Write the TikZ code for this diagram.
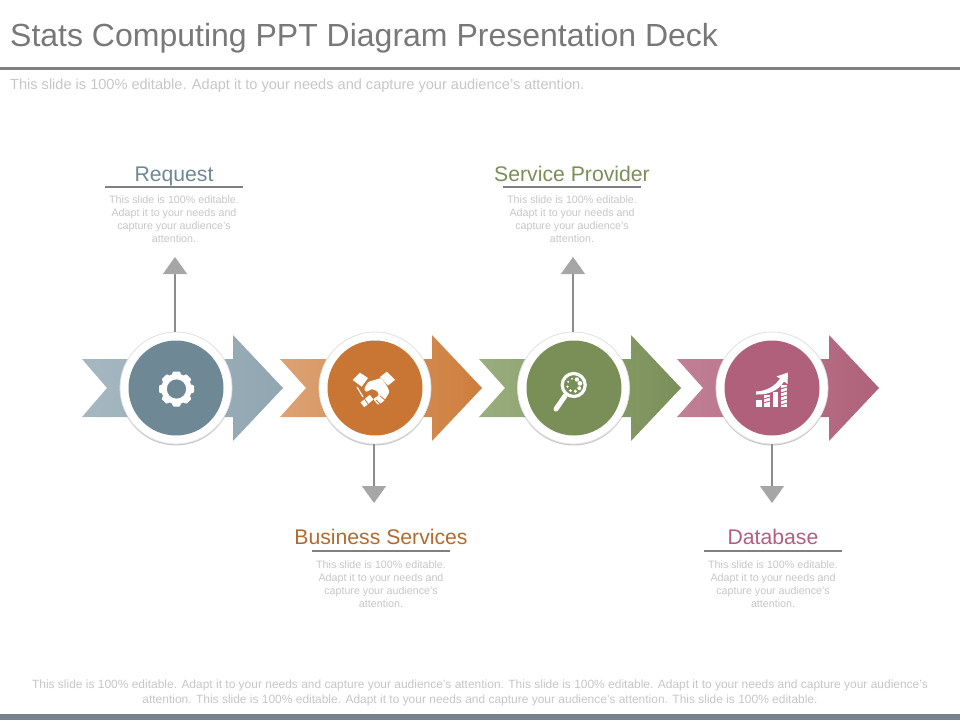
\documentclass[tikz,border=0pt]{standalone}
\usepackage{fontspec}
\setmainfont{Liberation Sans}
\usetikzlibrary{arrows.meta,shadows}
\definecolor{slate}{HTML}{6F8896}
\definecolor{slatehead}{HTML}{90A6B1}
\definecolor{slatetail}{HTML}{A5B8C2}
\definecolor{copper}{HTML}{C97534}
\definecolor{copperhead}{HTML}{CD7E3D}
\definecolor{coppertail}{HTML}{DDA274}
\definecolor{moss}{HTML}{7A8F58}
\definecolor{mosshead}{HTML}{7A8F58}
\definecolor{mosstail}{HTML}{9AAE7E}
\definecolor{rose}{HTML}{B0607A}
\definecolor{rosehead}{HTML}{AF627A}
\definecolor{rosetail}{HTML}{C08096}
\definecolor{rulegray}{HTML}{808080}
\definecolor{palegray}{HTML}{C6C6C6}
\definecolor{barslate}{HTML}{76828C}
\tikzset{
  ring/.style={circle,fill=white,draw=black!12,line width=0.8pt,minimum size=112pt,inner sep=0pt,
    drop shadow={shadow xshift=0pt,shadow yshift=-1.5pt,opacity=0.22,fill=black}},
  disc/.style={circle,minimum size=95pt,inner sep=0pt},
  heading/.style={font=\fontsize{21.2}{24}\selectfont,anchor=base},
  blurb/.style={font=\fontsize{10.7}{13}\selectfont,text=palegray,align=center,anchor=north},
  leader/.style={draw=black!45,line width=1.2pt,-{Triangle[width=24pt,length=17pt,color=black!35]}},
  underline/.style={draw=rulegray,line width=1.6pt}
}
\begin{document}
\begin{tikzpicture}[x=1pt,y=-1pt]
\useasboundingbox (0,0) rectangle (960,720);
% title and footer
\node[anchor=west,inner sep=0pt,text=black!53,font=\fontsize{32}{36}\selectfont] (title) at (10,38) {Stats Computing PPT Diagram Presentation Deck};
\fill[rulegray] (0,66.5) rectangle (960,69.5);
\node[anchor=west,inner sep=0pt,text=palegray,font=\fontsize{14.56}{16}\selectfont] (subtitle) at (10,86) {This slide is 100\% editable. Adapt it to your needs and capture your audience's attention.};
\node[inner sep=0pt,text=palegray,align=center,font=\fontsize{11.97}{15}\selectfont] (footer) at (480,693) {This slide is 100\% editable. Adapt it to your needs and capture your audience's attention. This slide is 100\% editable. Adapt it to your needs and capture your audience's\\attention. This slide is 100\% editable. Adapt it to your needs and capture your audience's attention. This slide is 100\% editable.};
\fill[barslate] (0,714) rectangle (960,720);
% chevrons
\shade[left color=slatetail,right color=slatehead] (82,359) -- (233,359) -- (233,335) -- (283,388) -- (233,441) -- (233,417) -- (82,417) -- (107,388) -- cycle;
\shade[left color=coppertail,right color=copperhead] (280,359) -- (432,359) -- (432,335) -- (482,388) -- (432,441) -- (432,417) -- (280,417) -- (306,388) -- cycle;
\shade[left color=mosstail,right color=mosshead] (479,359) -- (631,359) -- (631,335) -- (681,388) -- (631,441) -- (631,417) -- (479,417) -- (505,388) -- cycle;
\shade[left color=rosetail,right color=rosehead] (677,359) -- (829,359) -- (829,335) -- (879,388) -- (829,441) -- (829,417) -- (677,417) -- (703,388) -- cycle;
% rings and discs
\node[ring] (ringA) at (176,388) {};
\node[ring] (ringB) at (375,388) {};
\node[ring] (ringC) at (573.5,388) {};
\node[ring] (ringD) at (772,388) {};
\node[disc,fill=slate] (discA) at (176,388) {};
\node[disc,fill=copper] (discB) at (375,388) {};
\node[disc,fill=moss] (discC) at (574,388) {};
\node[disc,fill=rose] (discD) at (772,388) {};
% free ends of the leaders
\coordinate (tipA) at (175,257);
\coordinate (tipB) at (374,503);
\coordinate (tipC) at (573,257);
\coordinate (tipD) at (772,503);
\draw[leader] (ringA.north -| tipA) -- (tipA);
\draw[leader] (ringB.south -| tipB) -- (tipB);
\draw[leader] (ringC.north -| tipC) -- (tipC);
\draw[leader] (ringD.south -| tipD) -- (tipD);
% labels
\node[heading,text=slate] (headA) at (174,181) {Request};
\node[heading,text=copper!90!black] (headB) at (381,544) {Business Services};
\node[heading,text=moss] (headC) at (572,181) {Service Provider};
\node[heading,text=rose] (headD) at (773,544) {Database};
\draw[underline] (105,187) -- (243,187);
\draw[underline] (312,551) -- (450,551);
\draw[underline] (503,187) -- (641,187);
\draw[underline] (704,551) -- (842,551);
\node[blurb] (textA) at (174,192) {This slide is 100\% editable.\\Adapt it to your needs and\\capture your audience's\\attention.};
\node[blurb] (textB) at (381,557) {This slide is 100\% editable.\\Adapt it to your needs and\\capture your audience's\\attention.};
\node[blurb] (textC) at (572,192) {This slide is 100\% editable.\\Adapt it to your needs and\\capture your audience's\\attention.};
\node[blurb] (textD) at (773,557) {This slide is 100\% editable.\\Adapt it to your needs and\\capture your audience's\\attention.};
% gear
\draw[white,line width=5.5pt] (176.5,389) circle (12.5);
\foreach \a in {0,45,...,315}
  \fill[white,rounded corners=1pt,rotate around={\a:(176.5,389)}] (172.8,371.5) -- (180.2,371.5) -- (181.5,377) -- (171.5,377) -- cycle;
% handshake
\fill[white] (352.7,380) -- (360,372.7) -- (368,378) -- (361.7,386.7) -- cycle;
\fill[white] (380,377) -- (386.7,371.7) -- (395,380) -- (388,385.5) -- cycle;
\fill[white,rounded corners=1pt] (368,382) -- (381,378) -- (387,386) -- (389.5,392) -- (384,401) -- (378,405) -- (373,399) -- (379,395) -- (377,391) -- (372,389) -- (366,392) -- (364,389) -- cycle;
\draw[white,line width=1.2pt] (357,387) -- (363,397);
\fill[white,rotate around={40:(367,401)}] (361,398) rectangle (373,404);
\draw[copper,line width=0.8pt] (380,396) -- (385,400) (376,400) -- (380,404) (364,398) -- (368,404);
% magnifier
\draw[white,line width=3.2pt] (573.7,385) circle (11.5);
\draw[white,line width=5pt,line cap=round] (565,396) -- (556,409);
\foreach \a/\r in {-60/2.2,-15/2.4,30/2,75/1.7,120/1.5,165/1.3,210/1.1,255/1}
  \fill[white] (573.7,385) ++(\a:6.4) circle (\r);
% rising bars
\fill[white] (756,400) rectangle (761.7,407);
\fill[white] (763.5,395) rectangle (770,407);
\fill[white] (772.7,391.5) rectangle (778.3,407);
\fill[white] (780.7,385) rectangle (787,407);
\draw[rose,line width=0.9pt] (763.5,399) -- (770,397) (763.5,403) -- (770,401) (780.7,389) -- (787,387) (780.7,393) -- (787,391) (780.7,397) -- (787,395) (780.7,401) -- (787,399) (780.7,405) -- (787,403);
\fill[white] (756,391.5) .. controls (767,391) and (775,386) .. (780,378.5) -- (776.5,376.5) -- (788,372.5) -- (787.5,384) -- (784,381.5) .. controls (778,391) and (768,395) .. (756,394.5) -- cycle;
\end{tikzpicture}
\end{document}
